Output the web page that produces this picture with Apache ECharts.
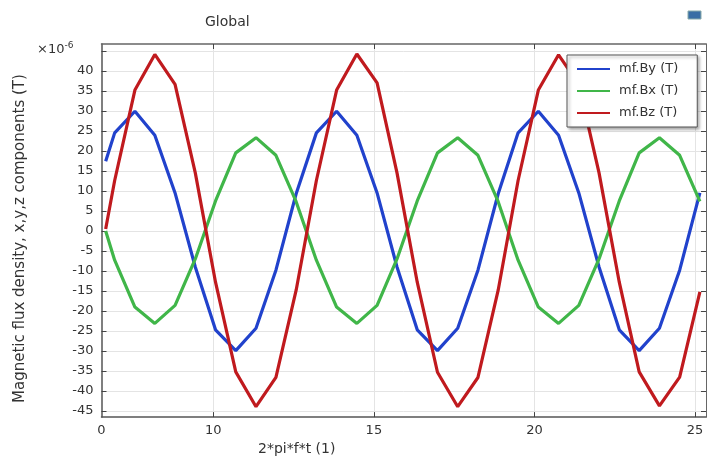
<!DOCTYPE html>
<html><head><meta charset="utf-8">
<script src="https://cdn.jsdelivr.net/npm/echarts@6/dist/echarts.min.js"></script>
<style>html,body{margin:0;padding:0;background:#fff}#c{width:707px;height:461px}</style>
</head><body><div id="c"></div>
<script>
// x positions of samples (2*pi*f*t)
const xValues = [6.65, 6.93, 7.56, 8.18, 8.81, 9.44, 10.07, 10.70, 11.33, 11.95, 12.58,
  13.21, 13.84, 14.47, 15.10, 15.72, 16.35, 16.98, 17.61, 18.24, 18.87,
  19.49, 20.12, 20.75, 21.38, 22.01, 22.64, 23.26, 23.89, 24.52, 25.15];
// values in 1e-6 T
const byValues = [17.4, 24.5, 29.9, 23.9, 9.5, -9.0, -24.7, -29.9, -24.3, -9.8, 9.3,
  24.5, 29.9, 23.9, 9.5, -9.0, -24.7, -29.9, -24.3, -9.8, 9.3,
  24.5, 29.9, 23.9, 9.5, -9.0, -24.7, -29.9, -24.3, -9.8, 9.5];
const bxValues = [0, -7.3, -19.0, -23.1, -18.6, -7.0, 7.5, 19.5, 23.3, 18.9, 7.3,
  -7.3, -19.0, -23.1, -18.6, -7.0, 7.5, 19.5, 23.3, 18.9, 7.3,
  -7.3, -19.0, -23.1, -18.6, -7.0, 7.5, 19.5, 23.3, 18.9, 7.4];
const bzValues = [0.5, 12.6, 35.2, 44.1, 36.6, 14.5, -12.8, -35.2, -43.9, -36.6, -14.8,
  12.6, 35.2, 44.2, 37.0, 14.5, -12.8, -35.3, -43.9, -36.6, -14.8,
  12.6, 35.2, 44.0, 36.6, 14.5, -12.8, -35.2, -43.7, -36.5, -15.2];
const seriesNames = ['mf.By (T)', 'mf.Bx (T)', 'mf.Bz (T)'];
const seriesColors = ['#2142cc', '#40b649', '#c01a1e'];
const xTickValues = [10, 15, 20, 25];
const xLabelValues = [6.52, 10, 15, 20, 25];
const yTickValues = [-45, -40, -35, -30, -25, -20, -15, -10, -5, 0, 5, 10, 15, 20, 25, 30, 35, 40, 45];
const yLabelValues = [-45, -40, -35, -30, -25, -20, -15, -10, -5, 0, 5, 10, 15, 20, 25, 30, 35, 40];
const xMin = 6.52, xMax = 25.34, yMin = -46.5, yMax = 46.7;

const FONT = 'DejaVu Sans';
const chart = echarts.init(document.getElementById('c'), null, {renderer: 'canvas'});
const allSeries = [byValues, bxValues, bzValues].map((vals, i) => ({
  name: seriesNames[i],
  type: 'line',
  xAxisIndex: 0, yAxisIndex: 0,
  data: xValues.map((x, j) => [x, vals[j]]),
  symbol: 'none',
  showSymbol: false,
  lineStyle: {color: seriesColors[i], width: 3.2},
  itemStyle: {color: seriesColors[i]},
  animation: false
}));

chart.setOption({
  animation: false,
  backgroundColor: '#fff',
  title: {text: 'Global', left: 200, top: 10,
    textStyle: {fontFamily: FONT, fontSize: 14, fontWeight: 'normal', color: '#333'}},
  grid: {left: 101.5, right: 1, top: 44, bottom: 37, containLabel: false},
  legend: {
    orient: 'vertical', left: 567, top: 55,
    data: seriesNames,
    icon: 'rect',
    padding: [7, 19, 7, 10],
    itemWidth: 33, itemHeight: 2, itemGap: 8,
    textStyle: {fontFamily: FONT, fontSize: 13, color: '#333', lineHeight: 14, padding: [0, 0, 0, 4]},
    backgroundColor: '#fff', borderColor: '#555', borderWidth: 1,
    shadowColor: 'rgba(0,0,0,0.35)', shadowBlur: 3, shadowOffsetX: 2, shadowOffsetY: 2
  },
  xAxis: [{
    type: 'value', min: xMin, max: xMax, position: 'bottom',
    name: '2*pi*f*t (1)', nameLocation: 'middle', nameGap: 22,
    nameTextStyle: {fontFamily: FONT, fontSize: 14, color: '#333', padding: [0, 214, 0, 0]},
    axisLine: {show: true, onZero: false, lineStyle: {color: '#555', width: 1.5}},
    axisTick: {show: true, inside: true, length: 5, customValues: xTickValues, lineStyle: {color: '#444'}},
    axisLabel: {customValues: xLabelValues, formatter: v => (v < 7 ? '0' : String(v)),
      fontFamily: FONT, fontSize: 13, color: '#333', margin: 7},
    splitLine: {show: true, lineStyle: {color: '#e4e4e4', width: 1}}
  }, {
    type: 'value', min: xMin, max: xMax, position: 'top',
    axisLine: {show: true, onZero: false, lineStyle: {color: '#666', width: 1.5}},
    axisTick: {show: true, inside: true, length: 5, customValues: xTickValues, lineStyle: {color: '#444'}},
    axisLabel: {show: false},
    splitLine: {show: false}
  }],
  yAxis: [{
    type: 'value', min: yMin, max: yMax, position: 'left',
    name: 'Magnetic flux density, x,y,z components (T)', nameLocation: 'middle', nameGap: 74, nameRotate: 90,
    nameTextStyle: {fontFamily: FONT, fontSize: 15, color: '#333', padding: [0, 16, 0, 0]},
    axisLine: {show: true, onZero: false, lineStyle: {color: '#555', width: 1.5}},
    axisTick: {show: true, inside: true, length: 5, customValues: yTickValues, lineStyle: {color: '#444'}},
    axisLabel: {customValues: yLabelValues, fontFamily: FONT, fontSize: 13, color: '#333', margin: 8},
    splitLine: {show: true, lineStyle: {color: '#e4e4e4', width: 1}}
  }, {
    type: 'value', min: yMin, max: yMax, position: 'right',
    axisLine: {show: true, onZero: false, lineStyle: {color: '#666', width: 1}},
    axisTick: {show: true, inside: true, length: 5, customValues: yTickValues, lineStyle: {color: '#444'}},
    axisLabel: {show: false},
    splitLine: {show: false}
  }],
  graphic: [{
    type: 'text', left: 37, top: 41,
    style: {
      text: '{a|×10}{b|-6}',
      rich: {
        a: {fontFamily: FONT, fontSize: 13, fill: '#333', verticalAlign: 'bottom'},
        b: {fontFamily: FONT, fontSize: 9, fill: '#333', verticalAlign: 'top', padding: [0, 0, 6, 0]}
      }
    }
  }, {
    type: 'rect', shape: {x: 688, y: 11, width: 13, height: 8},
    style: {fill: '#3a6ea5', stroke: '#8aa', lineWidth: 1}
  }],
  series: allSeries
});
</script></body></html>
